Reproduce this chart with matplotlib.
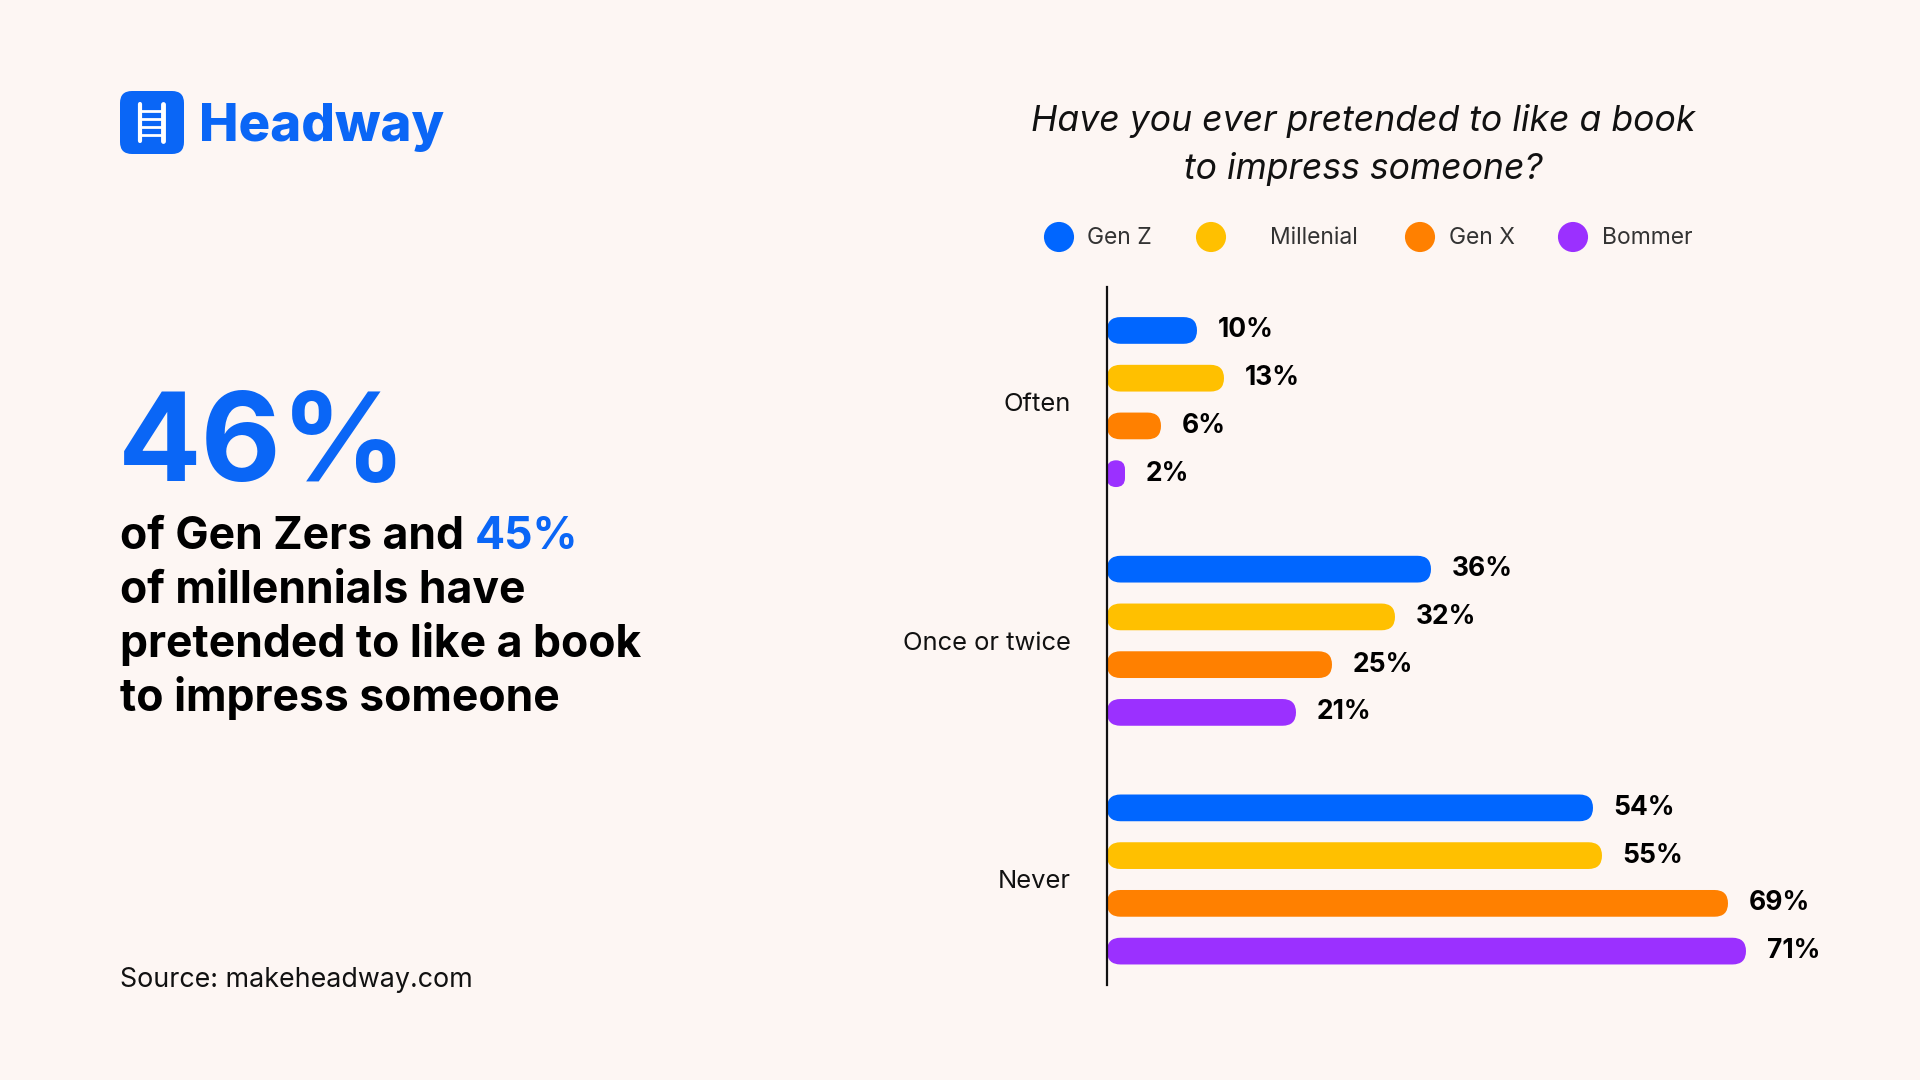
import matplotlib
matplotlib.use('Agg')
import matplotlib.pyplot as plt
from matplotlib.patches import FancyBboxPatch

plt.rcParams['font.family'] = ['Inter', 'DejaVu Sans']

# data
categories = ['Often', 'Once or twice', 'Never']
series_names = ['Gen Z', 'Millenial', 'Gen X', 'Bommer']
gen_z = [10, 36, 54]
millenial = [13, 32, 55]
gen_x = [6, 25, 69]
boomer = [2, 21, 71]
series_values = [gen_z, millenial, gen_x, boomer]
colors = ['#0066FF', '#FFC000', '#FF8000', '#9B30FF']

BG = '#FDF6F3'
BLUE = '#0A66F6'

fig = plt.figure(figsize=(19.2, 10.8), dpi=100)
fig.patch.set_facecolor(BG)

# overlay in pixel coords for the text parts
ov = fig.add_axes([0, 0, 1, 1])
ov.set_xlim(0, 1920)
ov.set_ylim(1080, 0)
ov.axis('off')
ov.patch.set_alpha(0)

# logo
ov.add_patch(FancyBboxPatch((120, 91), 64, 63, boxstyle='round,pad=0,rounding_size=12',
                            facecolor=BLUE, edgecolor='none'))
ov.plot([140, 140], [104, 141], color='white', lw=3, solid_capstyle='round')
ov.plot([163, 163], [104, 141], color='white', lw=3.5, solid_capstyle='round')
for yy in [111, 119, 127, 135]:
    ov.plot([140, 163], [yy, yy], color='white', lw=2)
ov.text(199, 128, 'Headway', fontsize=38, fontweight='heavy', color=BLUE, va='center', ha='left')

# headline
ov.text(118, 481, '46%', fontsize=89, fontweight='bold', color=BLUE, va='baseline', ha='left')
lines = ['of Gen Zers and ', 'of millennials have', 'pretended to like a book', 'to impress someone']
for i, ln in enumerate(lines):
    t = ov.text(120, 549 + 54 * i, ln, fontsize=32, fontweight='bold', color='black',
                va='baseline', ha='left')
    if i == 0:
        first = t
ov.annotate('45%', xy=(1, 0), xycoords=first, fontsize=32, fontweight='bold', color=BLUE,
            va='bottom', ha='left')

ov.text(120, 987, 'Source: makeheadway.com', fontsize=19.3, color='#111111', va='baseline', ha='left')

# title
ov.text(1363, 131, 'Have you ever pretended to like a book', fontsize=25.6, style='italic',
        color='#111111', ha='center', va='baseline')
ov.text(1363, 179, 'to impress someone?', fontsize=25.6, style='italic',
        color='#111111', ha='center', va='baseline')

# legend
leg_x = [1059, 1211, 1420, 1573]
leg_tx = [1087, 1270, 1449, 1602]
for cx, tx, name, c in zip(leg_x, leg_tx, series_names, colors):
    ov.scatter([cx], [237], s=470, color=c, edgecolor='none')
    ov.text(tx, 238, name, fontsize=16.5, color='#333333', va='center', ha='left')

# chart
ax = fig.add_axes([1107 / 1920, 95 / 1080, 720 / 1920, 698 / 1080])
ax.set_facecolor('none')
ax.set_xlim(0, 80)
ax.set_ylim(12.21, -2.41)

bar_h = 0.56
aspect = 0.1875
offsets = [-1.5, -0.5, 0.5, 1.5]
for j, vals in enumerate(series_values):
    for i, v in enumerate(vals):
        yc = i * 5 + offsets[j]
        r = min(1.5, v / 2)
        ax.add_patch(FancyBboxPatch((0, yc - bar_h / 2), v, bar_h,
                                    boxstyle='round,pad=0,rounding_size=%f' % r,
                                    mutation_aspect=aspect, facecolor=colors[j],
                                    edgecolor='none'))
        ax.text(v + 2.3, yc, '%d%%' % v, fontsize=19, fontweight='bold', color='black',
                va='center', ha='left')

ax.set_yticks([0, 5, 10])
ax.set_yticklabels(categories, fontsize=18.4, color='#111111')
ax.tick_params(axis='y', length=0, pad=26)
ax.set_xticks([])
for s in ['top', 'right', 'bottom']:
    ax.spines[s].set_visible(False)
ax.spines['left'].set_linewidth(1.6)
ax.spines['left'].set_color('#111111')

fig.savefig('out.png', dpi=100, facecolor=BG)
